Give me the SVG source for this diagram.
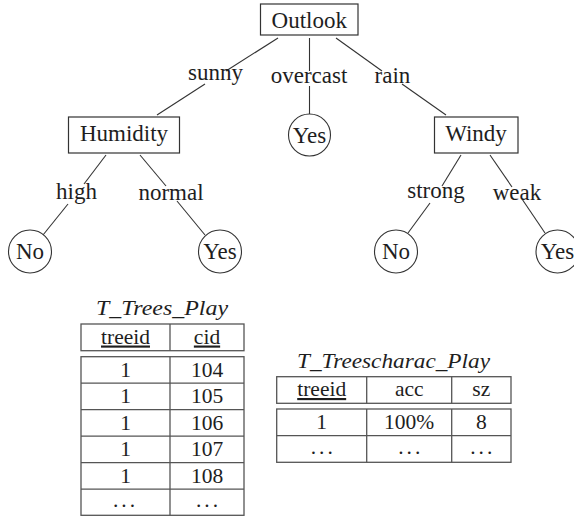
<svg xmlns="http://www.w3.org/2000/svg" width="574" height="516" viewBox="0 0 574 516">
<style>
text{font-family:"Liberation Serif","Times New Roman",serif;fill:#1e1e1e;text-anchor:middle}
.n{font-size:23px}
.t{font-size:21.5px}
.it{font-size:21px;font-style:italic}
.u{text-decoration:underline}
.box{fill:#fff;stroke:#333;stroke-width:1.2}
.leaf{fill:#fff;stroke:#333;stroke-width:1.1}
.edge line{stroke:#333;stroke-width:1.1}
.tb{fill:none;stroke:#555;stroke-width:1.3}
</style>
<rect width="574" height="516" fill="#fff"/>
<g id="connectors" class="edge">
<line x1="278" y1="38" x2="226" y2="71"/><line x1="205" y1="84" x2="157" y2="115"/>
<line x1="309.5" y1="38" x2="309.5" y2="71"/><line x1="309.5" y1="86" x2="309.5" y2="114"/>
<line x1="336" y1="38" x2="382" y2="71"/><line x1="402" y1="84" x2="446" y2="115"/>
<line x1="106" y1="155" x2="84" y2="184"/><line x1="68" y1="204" x2="43" y2="235"/>
<line x1="140" y1="155" x2="166" y2="186"/><line x1="177" y1="201" x2="205" y2="235"/>
<line x1="461" y1="155" x2="442" y2="186"/><line x1="430" y1="203" x2="408" y2="233"/>
<line x1="490" y1="155" x2="512" y2="187"/><line x1="522" y1="199" x2="545" y2="233"/>
</g>
<g id="edge-labels">
<text class="n" x="215.5" y="80">sunny</text>
<text class="n" x="309" y="83">overcast</text>
<text class="n" x="392.5" y="83">rain</text>
<text class="n" x="76.5" y="199">high</text>
<text class="n" x="171" y="200">normal</text>
<text class="n" x="436" y="198">strong</text>
<text class="n" x="517" y="200">weak</text>
</g>
<g id="outlook"><rect class="box" x="260.5" y="4" width="97.5" height="31"/><text class="n" x="309.3" y="27.5">Outlook</text></g>
<g id="humidity"><rect class="box" x="68.5" y="117" width="111" height="36"/><text class="n" x="124" y="141">Humidity</text></g>
<g id="windy"><rect class="box" x="434.5" y="117" width="83.5" height="36"/><text class="n" x="476" y="141">Windy</text></g>
<g id="yes-overcast"><circle class="leaf" cx="309.5" cy="135" r="21"/><text class="n" x="309.5" y="142.5">Yes</text></g>
<g id="no-high"><circle class="leaf" cx="30" cy="251.5" r="21.5"/><text class="n" x="30" y="259">No</text></g>
<g id="yes-normal"><circle class="leaf" cx="220" cy="251.5" r="21.5"/><text class="n" x="220" y="259">Yes</text></g>
<g id="no-strong"><circle class="leaf" cx="396" cy="251.5" r="21.5"/><text class="n" x="396" y="259">No</text></g>
<g id="yes-weak"><circle class="leaf" cx="557.5" cy="251.5" r="21.5"/><text class="n" x="557.5" y="259">Yes</text></g>
<g id="table-trees">
<text class="it" x="162" y="315" textLength="132" lengthAdjust="spacingAndGlyphs">T_Trees_Play</text>
<rect class="tb" x="81" y="324" width="163" height="26.7"/>
<line class="tb" x1="170" y1="324" x2="170" y2="350.7"/>
<rect class="tb" x="81" y="356.7" width="163" height="158.6"/>
<line class="tb" x1="170" y1="356.7" x2="170" y2="515.3"/>
<line class="tb" x1="81" y1="383.2" x2="244" y2="383.2"/>
<line class="tb" x1="81" y1="409.7" x2="244" y2="409.7"/>
<line class="tb" x1="81" y1="436.2" x2="244" y2="436.2"/>
<line class="tb" x1="81" y1="462.7" x2="244" y2="462.7"/>
<line class="tb" x1="81" y1="489.2" x2="244" y2="489.2"/>
<text class="t u" x="125.5" y="343.5">treeid</text><text class="t u" x="207" y="343.5">cid</text>
<text class="t" x="125.5" y="376.7">1</text><text class="t" x="207" y="376.7">104</text>
<text class="t" x="125.5" y="403.2">1</text><text class="t" x="207" y="403.2">105</text>
<text class="t" x="125.5" y="429.7">1</text><text class="t" x="207" y="429.7">106</text>
<text class="t" x="125.5" y="456.2">1</text><text class="t" x="207" y="456.2">107</text>
<text class="t" x="125.5" y="482.7">1</text><text class="t" x="207" y="482.7">108</text>
<text class="t" x="125.5" y="507" letter-spacing="3">...</text><text class="t" x="208.5" y="507" letter-spacing="3">...</text>
</g>
<g id="table-treescharac">
<text class="it" x="393.5" y="368" textLength="193" lengthAdjust="spacingAndGlyphs">T_Treescharac_Play</text>
<rect class="tb" x="276.7" y="376.7" width="234.3" height="26.6"/>
<line class="tb" x1="366.7" y1="376.7" x2="366.7" y2="403.3"/>
<line class="tb" x1="451.7" y1="376.7" x2="451.7" y2="403.3"/>
<rect class="tb" x="276.7" y="409" width="234.3" height="53.3"/>
<line class="tb" x1="366.7" y1="409" x2="366.7" y2="462.3"/>
<line class="tb" x1="451.7" y1="409" x2="451.7" y2="462.3"/>
<line class="tb" x1="276.7" y1="435.7" x2="511" y2="435.7"/>
<text class="t u" x="321.7" y="396">treeid</text><text class="t" x="409.2" y="396">acc</text><text class="t" x="481.3" y="396">sz</text>
<text class="t" x="321.7" y="429">1</text><text class="t" x="409.2" y="429">100%</text><text class="t" x="481.3" y="429">8</text>
<text class="t" x="323.2" y="454" letter-spacing="3">...</text><text class="t" x="410.7" y="454" letter-spacing="3">...</text><text class="t" x="482.8" y="454" letter-spacing="3">...</text>
</g>
</svg>
